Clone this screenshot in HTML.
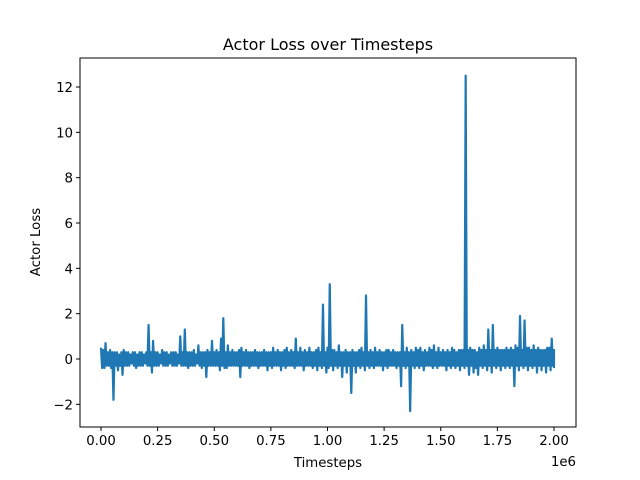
<!DOCTYPE html>
<html><head><meta charset="utf-8"><style>
html,body{margin:0;padding:0;background:#fff;}
svg{display:block;font-family:"DejaVu Sans","Liberation Sans",sans-serif;}
</style></head><body>
<svg id="chart" width="640" height="480">
<rect width="640" height="480" fill="#fff"/>
<text x="328" y="50" font-size="16" text-anchor="middle">Actor Loss over Timesteps</text>
<text x="328" y="467" font-size="13.3" text-anchor="middle">Timesteps</text>
<text x="40" y="242" font-size="13.3" text-anchor="middle" transform="rotate(-90 40 242)">Actor Loss</text>
<text x="576" y="466" font-size="13.3" text-anchor="end">1e6</text>
<g id="plot"></g>
</svg>
<script>
const xTicks=[0,0.25,0.5,0.75,1.0,1.25,1.5,1.75,2.0];
const xTickLabels=["0.00","0.25","0.50","0.75","1.00","1.25","1.50","1.75","2.00"];
const yTicks=[-2,0,2,4,6,8,10,12];
const yTickLabels=["−2","0","2","4","6","8","10","12"];
const stepSize=0.01; // bucket width in 1e6 timesteps
const lossMax=[
0.5,0.4,0.7,0.3,0.4,0.3,0.3,0.3,0.2,0.3,0.4,0.3,0.3,0.2,0.3,0.3,0.2,0.3,0.3,0.2,
0.3,1.5,0.3,0.8,0.3,0.3,0.2,0.4,0.3,0.3,0.2,0.3,0.3,0.3,0.2,1.0,0.3,1.3,0.3,0.3,
0.3,0.4,0.2,0.6,0.3,0.3,0.3,0.4,0.3,0.8,0.3,0.4,0.3,0.9,1.8,0.3,0.6,0.3,0.4,0.3,
0.3,0.4,0.5,0.3,0.4,0.3,0.3,0.3,0.4,0.3,0.3,0.3,0.4,0.3,0.3,0.3,0.5,0.3,0.4,0.3,
0.3,0.4,0.5,0.3,0.4,0.3,0.9,0.3,0.5,0.3,0.4,0.3,0.5,0.3,0.3,0.4,0.5,0.3,2.4,0.3,
0.5,3.3,0.4,0.4,0.3,0.6,0.3,0.3,0.4,0.3,0.3,0.4,0.3,0.3,0.4,0.5,0.3,2.8,0.3,0.4,
0.3,0.5,0.3,0.4,0.3,0.3,0.4,0.4,0.3,0.4,0.3,0.3,0.3,1.5,0.3,0.5,0.3,0.4,0.3,0.5,
0.4,0.5,0.3,0.4,0.3,0.5,0.4,0.6,0.3,0.5,0.3,0.4,0.3,0.4,0.3,0.5,0.4,0.3,0.4,0.4,
0.4,12.5,0.4,0.5,0.4,0.4,0.3,0.5,0.4,0.6,0.4,1.3,0.4,1.5,0.4,0.5,0.4,0.4,0.4,0.5,
0.4,0.5,0.4,0.6,0.5,1.9,0.4,1.7,0.5,0.5,0.4,0.6,0.4,0.5,0.4,0.4,0.4,0.5,0.5,0.9,
0.4];
const lossMin=[
-0.4,-0.4,-0.3,-0.3,-0.4,-1.8,-0.3,-0.5,-0.3,-0.7,-0.3,-0.3,-0.3,-0.2,-0.3,-0.4,-0.3,-0.3,-0.3,-0.2,
-0.3,-0.3,-0.6,-0.3,-0.3,-0.3,-0.2,-0.3,-0.3,-0.3,-0.2,-0.3,-0.3,-0.3,-0.2,-0.3,-0.3,-0.3,-0.4,-0.3,
-0.3,-0.3,-0.2,-0.3,-0.4,-0.3,-0.8,-0.3,-0.3,-0.3,-0.3,-0.3,-0.5,-0.3,-0.4,-0.4,-0.3,-0.3,-0.3,-0.3,
-0.3,-0.8,-0.3,-0.3,-0.3,-0.4,-0.3,-0.3,-0.3,-0.4,-0.3,-0.3,-0.3,-0.5,-0.3,-0.4,-0.3,-0.3,-0.3,-0.5,
-0.3,-0.4,-0.3,-0.3,-0.3,-0.4,-0.3,-0.3,-0.3,-0.5,-0.3,-0.3,-0.3,-0.4,-0.3,-0.5,-0.3,-0.4,-0.3,-0.6,
-0.4,-0.3,-0.5,-0.3,-0.4,-0.3,-0.8,-0.3,-0.6,-0.3,-1.5,-0.3,-0.6,-0.3,-0.4,-0.3,-0.5,-0.3,-0.4,-0.3,
-0.4,-0.3,-0.3,-0.3,-0.5,-0.3,-0.4,-0.3,-0.3,-0.3,-0.4,-0.3,-1.2,-0.3,-0.4,-0.3,-2.3,-0.3,-0.4,-0.3,
-0.4,-0.3,-0.5,-0.3,-0.3,-0.3,-0.4,-0.3,-0.4,-0.3,-0.3,-0.3,-0.5,-0.3,-0.4,-0.3,-0.4,-0.3,-0.5,-0.3,
-0.4,-0.3,-0.7,-0.3,-0.6,-0.4,-0.7,-0.3,-0.4,-0.3,-0.5,-0.3,-0.6,-0.3,-0.4,-0.3,-0.5,-0.3,-0.4,-0.3,
-0.4,-0.3,-1.2,-0.3,-0.5,-0.3,-0.4,-0.3,-0.5,-0.3,-0.4,-0.3,-0.6,-0.3,-0.5,-0.3,-0.6,-0.3,-0.5,-0.3,
-0.4];
const L=80,R=576,T=58,B=427;
function xs(v){return 101+v*(554-101)/2.0;}
function ys(v){return 359-v*(359-87)/12;}
const g=document.getElementById('plot');
const NS='http://www.w3.org/2000/svg';
function mk(t,a){const e=document.createElementNS(NS,t);for(const k in a)e.setAttribute(k,a[k]);g.appendChild(e);return e;}
let d='';
lossMax.forEach((v,i)=>{
 const x0=xs(i*stepSize), x1=xs((i+0.5)*stepSize);
 d+=(i?'L':'M')+x0.toFixed(2)+','+ys(v).toFixed(2);
 if(i<lossMax.length-1) d+='L'+x1.toFixed(2)+','+ys(lossMin[i]).toFixed(2);
 else d+='L'+x0.toFixed(2)+','+ys(lossMin[i]).toFixed(2);
});
const line=mk('path',{d:d,fill:'none',stroke:'#1f77b4','stroke-width':2.2,'stroke-linejoin':'round'});


const frame=mk('rect',{x:L,y:T,width:R-L,height:B-T,fill:'none',stroke:'#000','stroke-width':1});


xTicks.forEach((v,i)=>{
 const x=xs(v);
 const tk=mk('line',{x1:x,x2:x,y1:B,y2:B+4,stroke:'#000'});
 
 
 const tx=mk('text',{x:x,y:B+18,'font-size':13.3,'text-anchor':'middle'});
 tx.textContent=xTickLabels[i];
 
 
});
yTicks.forEach((v,i)=>{
 const y=ys(v);
 const tk=mk('line',{x1:L-4,x2:L,y1:y,y2:y,stroke:'#000'});
 
 
 const tx=mk('text',{x:L-7,y:y+5,'font-size':13.3,'text-anchor':'end'});
 tx.textContent=yTickLabels[i];
 
 
});
</script>
</body></html>
